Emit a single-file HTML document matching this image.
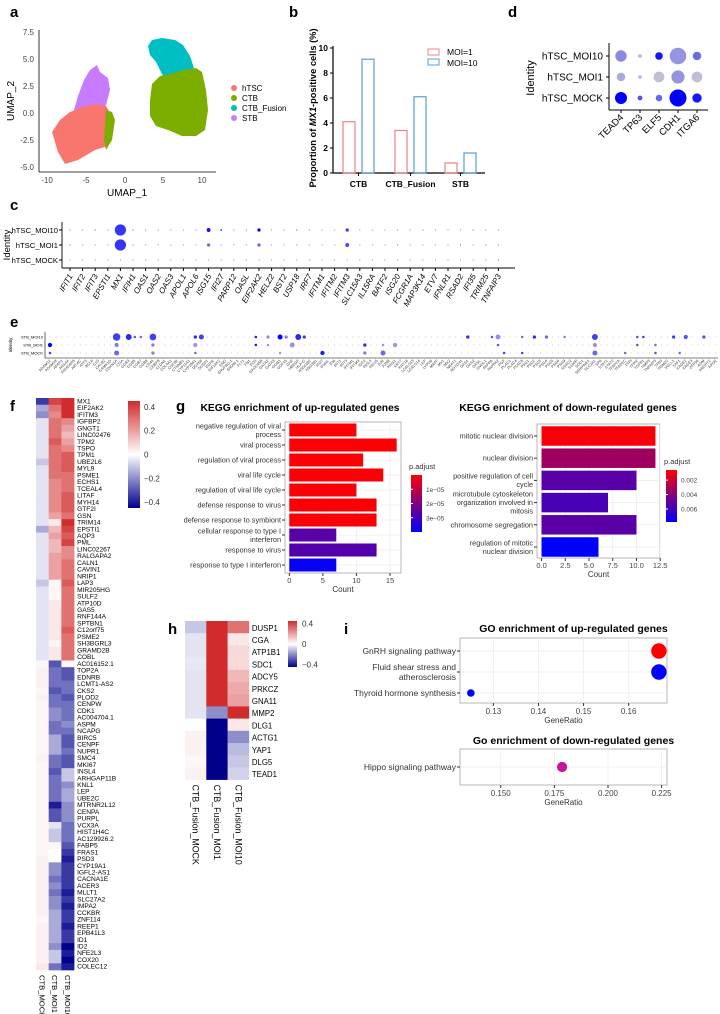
<!DOCTYPE html>
<html><head><meta charset="utf-8">
<style>
html,body{margin:0;padding:0;background:#fff;}
svg{display:block;font-family:"Liberation Sans",Arial,sans-serif;}
.lbl{font-weight:bold;font-size:15px;}
</style></head>
<body>
<svg id="fig" width="720" height="1014" viewBox="0 0 720 1014" xmlns="http://www.w3.org/2000/svg">
<defs>
<linearGradient id="gradRB" x1="0" y1="0" x2="0" y2="1"><stop offset="0" stop-color="#ff0000"/><stop offset="1" stop-color="#0000ff"/></linearGradient>
<linearGradient id="gradHeat" x1="0" y1="0" x2="0" y2="1"><stop offset="0" stop-color="#d12b2b"/><stop offset="0.5" stop-color="#ffffff"/><stop offset="1" stop-color="#00008b"/></linearGradient>
</defs>
<text class="lbl" x="10" y="17">a</text>
<text class="lbl" x="289" y="17">b</text>
<text class="lbl" x="508" y="17">d</text>
<text class="lbl" x="10" y="210">c</text>
<text class="lbl" x="10" y="327">e</text>
<text class="lbl" x="10" y="411">f</text>
<text class="lbl" x="176" y="411">g</text>
<text class="lbl" x="168" y="634">h</text>
<text class="lbl" x="344" y="634">i</text>

<g>
<polygon fill="#00BFC4" points="148,46 152,40 162,38 175,40 183,45 190,56 194,68 182,72 170,80 164,78 160,70 156,62 150,55"/>
<polygon fill="#7CAE00" points="150,100 152,84 160,76 170,74 183,70 196,68 202,72 206,90 208,110 205,130 196,136 182,136 168,130 156,126 150,116"/>
<polygon fill="#C77CFF" points="74,110 78,96 84,80 90,70 97,65 100,72 108,78 110,90 106,105 100,112"/>
<polygon fill="#F8766D" points="52,132 60,120 70,112 82,107 96,104 106,106 112,116 110,134 108,146 95,150 78,160 65,164 58,152"/>
<polygon fill="#7CAE00" points="106,110 112,112 115,120 112,140 106,150 104,140"/>
<line x1="39" y1="30" x2="39" y2="172" stroke="#000" stroke-width="0.8"/>
<line x1="39" y1="172" x2="216" y2="172" stroke="#000" stroke-width="0.8"/>
<g font-size="8" fill="#444" text-anchor="end">
<text x="34" y="35">7.5</text><text x="34" y="62">5.0</text><text x="34" y="89">2.5</text><text x="34" y="116">0.0</text><text x="34" y="143">-2.5</text><text x="34" y="170">-5.0</text></g>
<g font-size="8" fill="#444" text-anchor="middle">
<text x="47" y="183">-10</text><text x="86" y="183">-5</text><text x="125" y="183">0</text><text x="163" y="183">5</text><text x="202" y="183">10</text></g>
<text x="127" y="196" font-size="10" text-anchor="middle">UMAP_1</text>
<text transform="translate(14,101) rotate(-90)" font-size="10" text-anchor="middle">UMAP_2</text>
<g font-size="8">
<circle cx="234" cy="88" r="3" fill="#F8766D"/><text x="242" y="91">hTSC</text>
<circle cx="234" cy="98" r="3" fill="#7CAE00"/><text x="242" y="101">CTB</text>
<circle cx="234" cy="108" r="3" fill="#00BFC4"/><text x="242" y="111">CTB_Fusion</text>
<circle cx="234" cy="118" r="3" fill="#C77CFF"/><text x="242" y="121">STB</text>
</g></g>

<g id="pb"></g>
<g id="pd"></g>
<g id="pc"></g>
<g id="pe"></g>
<g id="pf"></g>
<g id="pg"></g>
<g id="ph"></g>
<g id="pi"></g>
</svg>
<script>
const bCategories = ["CTB","CTB_Fusion","STB"];
const bMoi1 = [4.1, 3.4, 0.8];
const bMoi10 = [9.1, 6.1, 1.6];
const bTicks = [0,2,4,6,8,10];

const dGenes = ["TEAD4","TP63","ELF5","CDH1","ITGA6"];
const dRows = ["hTSC_MOI10","hTSC_MOI1","hTSC_MOCK"];
const dPct = [[0.45,0.05,0.2,0.95,0.25],[0.25,0.05,0.4,0.6,0.4],[0.5,0.08,0.15,1.0,0.3]];
const dExp = [[0.35,0.1,0.9,0.3,0.5],[0.2,0.1,0.1,0.3,0.1],[1.0,0.6,0.5,1.0,0.9]];

const cGenes = ["IFIT1","IFIT2","IFIT3","EPSTI1","MX1","IFIH1","OAS1","OAS2","OAS3","APOL1","APOL6","ISG15","IFI27","PARP12","OASL","EIF2AK2","HELZ2","BST2","USP18","IRF7","IFITM1","IFITM2","IFITM3","SLC15A3","IL15RA","BATF2","ISG20","FCGR1A","MAP3K14","ETV7","IFNLR1","RSAD2","IFI35","TRIM25","TNFAIP3"];
const cRows = ["hTSC_MOI10","hTSC_MOI1","hTSC_MOCK"];
const cPct = [
 [0.08,0.04,0.08,0.06,1.0,0.1,0.08,0.05,0.05,0.05,0.06,0.35,0.15,0.06,0.05,0.3,0.05,0.06,0.1,0.06,0.04,0.05,0.3,0.04,0.04,0.04,0.05,0.04,0.05,0.06,0.04,0.06,0.08,0.05,0.05],
 [0.06,0.04,0.05,0.05,1.0,0.06,0.06,0.04,0.04,0.04,0.05,0.3,0.05,0.04,0.04,0.3,0.04,0.05,0.06,0.04,0.04,0.04,0.35,0.04,0.04,0.04,0.06,0.04,0.04,0.04,0.04,0.06,0.05,0.06,0.05],
 [0.05,0.06,0.04,0.04,0.04,0.04,0.04,0.04,0.04,0.04,0.04,0.06,0.04,0.04,0.04,0.04,0.04,0.04,0.04,0.04,0.04,0.06,0.04,0.04,0.04,0.04,0.04,0.04,0.04,0.04,0.04,0.04,0.04,0.04,0.08]];
const cExp = [
 [0.5,0.3,0.5,0.4,0.75,0.6,0.4,0.3,0.3,0.3,0.4,0.9,0.9,0.4,0.4,0.95,0.3,0.4,0.6,0.4,0.3,0.3,0.7,0.3,0.3,0.3,0.4,0.3,0.4,0.4,0.3,0.4,0.5,0.4,0.4],
 [0.4,0.3,0.3,0.3,0.75,0.4,0.3,0.3,0.3,0.3,0.3,0.5,0.3,0.3,0.3,0.5,0.3,0.3,0.4,0.3,0.3,0.3,0.65,0.3,0.3,0.3,0.5,0.3,0.3,0.3,0.3,0.5,0.3,0.4,0.4],
 [0.3,0.3,0.3,0.3,0.3,0.3,0.3,0.3,0.3,0.3,0.3,0.3,0.3,0.3,0.3,0.3,0.3,0.3,0.3,0.3,0.3,0.3,0.3,0.3,0.3,0.3,0.3,0.3,0.3,0.3,0.3,0.3,0.3,0.3,0.5]];

const eGenes = "ADAM12 ADAM19 AFAP1 ANXA4 ARHGAP5 ARL4C ATF3 BCL6 C1S CALB2 CAMK1D CDKN1A CGA CGB3 CGB5 CGB7 CGB8 CD44 CEBPB CLDN1 COL4A1 CSF3R CTNNB1 CYP11A1 CYP19A1 DDX58 DUSP1 EGFR EIF2AK2 ENG ERVFRD-1 ERVW-1 FLT1 FN1 FOS GADD45B GATA2 GATA3 GCM1 GDF15 GH2 HBEGF HLA-G HSD11B2 HSD3B1 IFI27 IFI44L IFI6 IFIT1 IFIT3 IFITM1 IFITM3 IGF2 INSL4 ISG15 JUN JUNB KISS1 KRT7 KRT18 LGALS13 LGALS14 LEP LYPD6 MAFF MX1 MX2 NEAT1 NOTCH1 OAS1 OAS2 OASL OVOL1 PAPPA PAPPA2 PGF PLAC1 PLAC4 PLAC8 PSG1 PSG2 PSG3 PSG4 PSG5 PSG6 PSG9 RSAD2 S100P SDC1 SERPINE1 SLC2A1 SP6 STAT1 STAT2 TFAP2A TFAP2C TFPI TFPI2 TGFB1 TIMP3 TNFAIP3 TP63 TRIM22 VGLL1 XAF1 XAGE2 XAGE3 ZFP36 ADM ANGPT2 APOE".split(" ");
const eRows = ["STB_MOI10","STB_MOI1","STB_MOCK"];
const eHighlights = [
 [0,11,0.9,0.7],[0,13,0.7,0.8],[0,14,0.3,0.6],[0,15,0.3,0.5],[0,17,0.8,0.7],[0,24,0.4,0.8],[0,25,0.6,0.7],[0,34,0.3,0.9],[0,36,0.4,0.3],[0,38,0.6,1.0],[0,39,0.4,0.4],[0,41,0.7,0.8],[0,42,0.4,0.7],
 [0,69,0.4,0.8],[0,73,0.3,0.6],[0,74,0.6,0.3],[0,78,0.3,0.5],[0,80,0.4,0.8],[0,82,0.4,0.5],[0,85,0.3,0.4],[0,90,0.7,0.7],[0,97,0.3,0.6],[0,98,0.3,0.7],[0,103,0.4,0.7],[0,105,0.5,0.6],[0,108,0.4,0.6],
 [1,0,0.5,1.0],[1,11,0.5,0.4],[1,17,0.4,0.4],[1,24,0.5,0.3],[1,34,0.3,0.9],[1,36,0.3,0.3],[1,40,0.6,0.3],[1,52,0.4,0.8],[1,55,0.3,0.3],[1,57,0.5,0.3],[1,74,0.3,0.6],[1,90,0.5,0.3],[1,97,0.3,0.6],[1,100,0.3,0.5],
 [2,0,0.3,0.7],[2,11,0.6,0.5],[2,17,0.4,0.4],[2,24,0.3,0.5],[2,38,0.3,0.3],[2,45,0.5,0.9],[2,52,0.4,0.4],[2,55,0.6,0.5],[2,75,0.3,0.7],[2,78,0.3,0.7],[2,90,0.6,0.5],[2,95,0.3,0.5],[2,100,0.3,0.6],[2,104,0.3,0.5]];

const fGenes = ["MX1","EIF2AK2","IFITM3","IGFBP2","GNGT1","LINC02476","TPM2","TSPO","TPM1","UBE2L6","MYL9","PSME1","ECHS1","TCEAL4","LITAF","MYH14","GTF2I","GSN","TRIM14","EPSTI1","AQP3","PML","LINC02267","RALGAPA2","CALN1","CAVIN1","NRIP1","LAP3","MIR205HG","SULF2","ATP10D","GAS5","RNF144A","SPTBN1","C12orf75","PSME2","SH3BGRL3","GRAMD2B","COBL","AC016152.1","TOP2A","EDNRB","LCMT1-AS2","CKS2","PLOD2","CENPW","CDK1","AC004704.1","ASPM","NCAPG","BIRC5","CENPF","NUPR1","SMC4","MKI67","INSL4","ARHGAP11B","KNL1","LEP","UBE2C","MTRNR2L12","CENPA","PURPL","VCX3A","HIST1H4C","AC129926.2","FABP5","FRAS1","PSD3","CYP19A1","IGFL2-AS1","CACNA1E","ACER3","MLLT1","SLC27A2","IMPA2","CCKBR","ZNF114","REEP1","EPB41L3","ID1","ID2","NFE2L3","COX20","COLEC12"];
const fCols = ["CTB_MOCK","CTB_MOI1","CTB_MOI10"];
const fMock = [-0.35,-0.15,-0.2,-0.05,-0.05,-0.05,-0.05,-0.05,-0.05,-0.1,-0.05,-0.05,-0.05,-0.05,-0.05,-0.05,-0.05,-0.05,-0.05,-0.15,-0.05,-0.05,-0.05,-0.05,-0.05,-0.05,-0.05,-0.1,-0.05,-0.05,-0.05,-0.05,-0.05,-0.05,-0.05,-0.05,-0.05,-0.05,-0.05,
 0.02,0.03,0.03,0.03,0.02,0.03,0.02,0.02,0.02,0.02,0.02,0.02,0.02,0.02,0.03,0.02,0.02,0.02,0.02,0.02,0.02,0.02,0.02,0.02,0.02,0.02,0.02,0.02,0.02,0.03,0.03,0.03,0.03,0.03,0.03,0.03,0.03,0.03,0.02,0.03,0.03,0.03,0.03,0.03,0.03,0.05];
const fMoi1 = [0.4,0.3,0.25,0.3,0.3,0.3,0.35,0.3,0.3,0.3,0.3,0.3,0.25,0.25,0.25,0.25,0.25,0.2,0.05,0.15,0.2,0.15,0.15,0.2,0.2,0.2,0.2,0.02,0.02,0.02,0.05,0.05,0.05,0.05,0.05,0.05,0.02,0.05,0.05,
 -0.3,-0.25,-0.25,-0.25,-0.3,-0.25,-0.25,-0.2,-0.2,-0.25,-0.25,-0.15,-0.15,-0.15,-0.25,-0.25,-0.3,-0.25,-0.25,-0.25,-0.25,-0.4,-0.3,-0.3,-0.05,-0.1,-0.1,0.02,0.0,0.0,-0.2,-0.2,-0.25,-0.2,-0.25,-0.2,-0.2,-0.15,-0.15,-0.15,-0.15,-0.15,-0.2,-0.1,-0.1,-0.25];
const fMoi10 = [0.45,0.45,0.45,0.25,0.2,0.15,0.2,0.25,0.35,0.35,0.35,0.3,0.3,0.3,0.35,0.35,0.35,0.3,0.45,0.4,0.35,0.4,0.25,0.25,0.3,0.3,0.3,0.35,0.3,0.3,0.3,0.3,0.3,0.3,0.35,0.3,0.3,0.3,0.3,
 0.02,-0.3,-0.3,-0.25,-0.25,-0.3,-0.25,-0.25,-0.25,-0.2,-0.25,-0.3,-0.3,-0.25,-0.3,-0.3,-0.1,-0.1,-0.2,-0.15,-0.15,-0.2,-0.2,-0.2,-0.25,-0.25,-0.25,-0.3,-0.35,-0.4,-0.35,-0.35,-0.35,-0.35,-0.4,-0.35,-0.4,-0.35,-0.35,-0.4,-0.35,-0.35,-0.45,-0.4,-0.5,-0.4];
const fTicks = [0.4,0.2,0,-0.2,-0.4];

const gUpTerms = [["negative regulation of viral","process"],["viral process"],["regulation of viral process"],["viral life cycle"],["regulation of viral life cycle"],["defense response to virus"],["defense response to symbiont"],["cellular response to type I","interferon"],["response to virus"],["response to type I interferon"]];
const gUpCounts = [10,16,11,14,10,13,13,7,13,7];
const gUpPadj = [0.3e-6,0.5e-6,0.5e-6,0.6e-6,0.7e-6,0.8e-6,0.9e-6,2.6e-5,2.7e-5,3.9e-5];
const gUpTicks = [0,5,10,15];
const gUpLegTicks = [1e-5,2e-5,3e-5];
const gDnTerms = [["mitotic nuclear division"],["nuclear division"],["positive regulation of cell","cycle"],["microtubule cytoskeleton","organization involved in","mitosis"],["chromosome segregation"],["regulation of mitotic","nuclear division"]];
const gDnCounts = [12,12,10,7,10,6];
const gDnPadj = [0.0008,0.0033,0.0053,0.0057,0.0053,0.0078];
const gDnTicks = [0,2.5,5,7.5,10,12.5];
const gDnLegTicks = [0.002,0.004,0.006];

const hGenes = ["DUSP1","CGA","ATP1B1","SDC1","ADCY5","PRKCZ","GNA11","MMP2","DLG1","ACTG1","YAP1","DLG5","TEAD1"];
const hCols = ["CTB_Fusion_MOCK","CTB_Fusion_MOI1","CTB_Fusion_MOI10"];
const hMock = [-0.1,-0.05,-0.05,-0.04,-0.05,-0.05,-0.05,-0.05,0.0,0.03,0.03,0.02,0.03];
const hMoi1 = [0.45,0.45,0.45,0.45,0.45,0.45,0.45,-0.2,-0.45,-0.45,-0.45,-0.45,-0.45];
const hMoi10 = [0.3,0.05,0.08,0.08,0.15,0.18,0.2,0.45,0.05,-0.2,-0.12,-0.1,-0.08];
const hTicks = [0.4,0,-0.4];

const iUpTerms = [["GnRH signaling pathway"],["Fluid shear stress and","atherosclerosis"],["Thyroid hormone synthesis"]];
const iUpRatio = [0.1667,0.1667,0.125];
const iUpCount = [4,4,1];
const iUpColor = ["#ff0000","#0000ff","#0000ff"];
const iUpTicks = [0.13,0.14,0.15,0.16];
const iDnTerms = [["Hippo signaling pathway"]];
const iDnRatio = [0.1786];
const iDnCount = [2];
const iDnColor = ["#c8149a"];
const iDnTicks = [0.150,0.175,0.200,0.225];

const NS="http://www.w3.org/2000/svg";
function mk(parent,tag,attrs,text){const e=document.createElementNS(NS,tag);for(const k in attrs)e.setAttribute(k,attrs[k]);if(text!==undefined)e.textContent=text;parent.appendChild(e);return e;}
function lin(d0,d1,r0,r1){return v=>r0+(v-d0)*(r1-r0)/(d1-d0);}
function mix(a,b,t){const pa=[1,3,5].map(i=>parseInt(a.substr(i,2),16)),pb=[1,3,5].map(i=>parseInt(b.substr(i,2),16));return "rgb("+pa.map((x,i)=>Math.round(x+(pb[i]-x)*t)).join(",")+")";}
function dotCol(v){return mix("#d3d3d3","#0000ff",Math.max(0,Math.min(1,v)));}
function heat(v,m){const t=Math.max(-1,Math.min(1,v/m));return t>=0?mix("#ffffff","#d12b2b",t):mix("#ffffff","#00008b",-t);}
function rbCol(t){return mix("#ff0000","#0000ff",Math.max(0,Math.min(1,t)));}

(function(){
 const g=document.getElementById("pb");
 const y=lin(0,10,173,48);
 const x0=[343,395,445];
 mk(g,"line",{x1:333,y1:46,x2:333,y2:173,stroke:"#000","stroke-width":1.2});
 mk(g,"line",{x1:333,y1:173,x2:485,y2:173,stroke:"#000","stroke-width":1.2});
 bTicks.forEach(t=>{mk(g,"line",{x1:330,y1:y(t),x2:333,y2:y(t),stroke:"#000"});
  const tl=mk(g,"text",{x:328,y:y(t)+3,"font-size":8.5,"font-weight":"bold","text-anchor":"end"},t);
  
  });
 bCategories.forEach((c,i)=>{
  const b1=mk(g,"rect",{x:x0[i],y:y(bMoi1[i]),width:12,height:y(0)-y(bMoi1[i]),fill:"none",stroke:"#f08080","stroke-width":1.2});
  
  
  const b2=mk(g,"rect",{x:x0[i]+19,y:y(bMoi10[i]),width:12,height:y(0)-y(bMoi10[i]),fill:"none",stroke:"#5b9be0","stroke-width":1.2});
  
  
  mk(g,"line",{x1:x0[i]+15.5,y1:173,x2:x0[i]+15.5,y2:176,stroke:"#000"});
  const cl=mk(g,"text",{x:x0[i]+15.5,y:187,"font-size":8.5,"font-weight":"bold","text-anchor":"middle"},c);
  
  
 });
 const t=mk(g,"text",{transform:"translate(316,108) rotate(-90)","font-size":9.3,"font-weight":"bold","text-anchor":"middle"});
 
 
 t.innerHTML='Proportion of <tspan font-style="italic">MX1</tspan>-positive cells (%)';
 const l1=mk(g,"rect",{x:428,y:49,width:11,height:6,fill:"none",stroke:"#f08080"});
 
 
 mk(g,"text",{x:447,y:55,"font-size":8.5},"MOI=1");
 const l2=mk(g,"rect",{x:428,y:59,width:11,height:6,fill:"none",stroke:"#5b9be0"});
 
 
 mk(g,"text",{x:447,y:66,"font-size":8.5},"MOI=10");
})();

(function(){
 const g=document.getElementById("pd");
 const x=i=>621+i*19, y=i=>56+i*21;
 mk(g,"line",{x1:609,y1:43,x2:609,y2:110,stroke:"#000","stroke-width":1});
 mk(g,"line",{x1:609,y1:110,x2:708,y2:110,stroke:"#000","stroke-width":1});
 dRows.forEach((r,ri)=>{
  mk(g,"line",{x1:606,y1:y(ri),x2:609,y2:y(ri),stroke:"#000"});
  const rl=mk(g,"text",{x:603,y:y(ri)+3.5,"font-size":10,"text-anchor":"end"},r);
  
  
  dGenes.forEach((gn,gi)=>{
   const c=mk(g,"circle",{cx:x(gi),cy:y(ri),r:Math.max(0.6,8.5*Math.sqrt(dPct[ri][gi])),fill:dotCol(dExp[ri][gi])});
   
   
  });
 });
 dGenes.forEach((gn,gi)=>{
  mk(g,"line",{x1:x(gi),y1:110,x2:x(gi),y2:113,stroke:"#000"});
  const t=mk(g,"text",{transform:`translate(${x(gi)+3},118) rotate(-45)`,"font-size":9.5,"text-anchor":"end"},gn);
  
  
 });
 const yt=mk(g,"text",{transform:"translate(534,78) rotate(-90)","font-size":11,"text-anchor":"middle"},"Identity");
 
 
})();

(function(){
 const g=document.getElementById("pc");
 const x=i=>70+i*12.6, y=i=>230+i*15;
 mk(g,"line",{x1:62,y1:222,x2:62,y2:268,stroke:"#000","stroke-width":0.9});
 mk(g,"line",{x1:62,y1:268,x2:515,y2:268,stroke:"#000","stroke-width":0.9});
 cRows.forEach((r,ri)=>{
  mk(g,"line",{x1:59,y1:y(ri),x2:62,y2:y(ri),stroke:"#000"});
  const rl=mk(g,"text",{x:58,y:y(ri)+3,"font-size":7.6,"text-anchor":"end"},r);
  
  
  cGenes.forEach((gn,gi)=>{
   const c=mk(g,"circle",{cx:x(gi),cy:y(ri),r:Math.max(0.6,5.6*cPct[ri][gi]),fill:dotCol(cExp[ri][gi])});
   
   
  });
 });
 cGenes.forEach((gn,gi)=>{
  mk(g,"line",{x1:x(gi),y1:268,x2:x(gi),y2:271,stroke:"#000"});
  const t=mk(g,"text",{transform:`translate(${x(gi)+3},276) rotate(-60)`,"font-size":8,"font-style":"italic","text-anchor":"end"},gn);
  
  
 });
 const yt=mk(g,"text",{transform:"translate(10,245) rotate(-90)","font-size":9.5,"text-anchor":"middle"},"Identity");
 
 
})();

(function(){
 const g=document.getElementById("pe");
 const sp=(716-50)/(eGenes.length-1);
 const x=i=>50+i*sp, y=i=>337+i*8;
 mk(g,"line",{x1:45,y1:332,x2:45,y2:358,stroke:"#000","stroke-width":0.6});
 mk(g,"line",{x1:45,y1:358,x2:718,y2:358,stroke:"#000","stroke-width":0.6});
 eRows.forEach((r,ri)=>{
  const rl=mk(g,"text",{x:43,y:y(ri)+1.5,"font-size":4,"text-anchor":"end"},r);
  
  
  eGenes.forEach((gn,gi)=>{
   const c=mk(g,"circle",{cx:x(gi),cy:y(ri),r:0.5,fill:"#b8b8e8"});
   
   
  });
 });
 eHighlights.forEach(h=>{
  const c=mk(g,"circle",{cx:x(h[1]),cy:y(h[0]),r:Math.max(0.6,4.2*h[2]),fill:dotCol(h[3])});
  
  
 });
 eGenes.forEach((gn,gi)=>{
  const t=mk(g,"text",{transform:`translate(${x(gi)+1},361) rotate(-45)`,"font-size":3.8,fill:"#333","text-anchor":"end"},gn);
  
  
 });
 const yt=mk(g,"text",{transform:"translate(12,345) rotate(-90)","font-size":4.5,"text-anchor":"middle"},"Identity");
 
 
})();

function heatmap(g,genes,cols,vals,x0,y0,cw,rh,fs,m,prefix){
 vals.forEach((col,ci)=>col.forEach((v,ri)=>{
  const r=mk(g,"rect",{x:x0+ci*cw,y:y0+ri*rh,width:cw+0.3,height:rh+0.3,fill:heat(v,m)});
  
  
 }));
 genes.forEach((gn,ri)=>{
  const t=mk(g,"text",{x:x0+cols.length*cw+3,y:y0+ri*rh+rh*0.8,"font-size":fs},gn);
  
  
 });
 cols.forEach((c,ci)=>{
  const t=mk(g,"text",{transform:`translate(${x0+ci*cw+cw/2-3},${y0+genes.length*rh+5}) rotate(90)`,"font-size":fs+1},c);
  
  
 });
}

(function(){
 const g=document.getElementById("pf");
 heatmap(g,fGenes,fCols,[fMock,fMoi1,fMoi10],36,398,12.7,6.73,6.6,0.45,'f');
 const cb=mk(g,"rect",{x:128,y:401,width:12,height:107,fill:"url(#gradHeat)"});
 
 
 const cy=lin(0.45,-0.45,401,508);
 fTicks.forEach(t=>{mk(g,"text",{x:144,y:cy(t)+3,"font-size":8,fill:"#333"},t===0?"0":(t<0?"\u2212"+(-t):t));});
})();

function barPanel(g,terms,counts,padj,ticks,legTicks,opt){
 const {px0,px1,py0,py1,xmax,rowY,bh,title,tx,cbx,cby0,cby1,pmin,pmax,prefix}=opt;
 mk(g,"rect",{x:px0,y:py0,width:px1-px0,height:py1-py0,fill:"#fff",stroke:"#999","stroke-width":0.7});
 const x=lin(-xmax*0.04,xmax*1.04,px0,px1);
 ticks.forEach(t=>{mk(g,"line",{x1:x(t),y1:py0,x2:x(t),y2:py1,stroke:"#ebebeb","stroke-width":0.7});
  mk(g,"line",{x1:x(t),y1:py1,x2:x(t),y2:py1+3,stroke:"#333"});
  const tl=mk(g,"text",{x:x(t),y:py1+10,"font-size":7.5,fill:"#444","text-anchor":"middle"},opt.fmt?t.toFixed(1):t);
  
  });
 const ct=mk(g,"text",{x:(px0+px1)/2,y:py1+19,"font-size":8,fill:"#333","text-anchor":"middle"},"Count");
 
 
 counts.forEach((c,i)=>{
  const yy=rowY(i);
  mk(g,"line",{x1:px0,y1:yy,x2:px1,y2:yy,stroke:"#ebebeb","stroke-width":0.7});
  const b=mk(g,"rect",{x:x(0),y:yy-bh/2,width:x(c)-x(0),height:bh,fill:rbCol((padj[i]-pmin)/(pmax-pmin))});
  
  
  mk(g,"line",{x1:px0-3,y1:yy,x2:px0,y2:yy,stroke:"#333"});
  const lines=terms[i], lh=8.5, st=yy-(lines.length-1)*lh/2+2.5;
  lines.forEach((ln,k)=>{const t=mk(g,"text",{x:px0-4,y:st+k*lh,"font-size":7.3,fill:"#333","text-anchor":"end"},ln);
   
   });
 });
 const tt=mk(g,"text",{x:tx,y:411,"font-size":opt.tfs,"font-weight":"bold","text-anchor":"middle"},title);
 
 
 mk(g,"text",{x:cbx-2,y:cby0-6,"font-size":7.5,fill:"#333"},"p.adjust");
 const cb=mk(g,"rect",{x:cbx,y:cby0,width:11,height:cby1-cby0,fill:"url(#gradRB)"});
 
 
 const cy=lin(pmin,pmax,cby0,cby1);
 legTicks.forEach(t=>{mk(g,"line",{x1:cbx,y1:cy(t),x2:cbx+2,y2:cy(t),stroke:"#fff"});
  mk(g,"text",{x:cbx+15,y:cy(t)+2.5,"font-size":6.5,fill:"#444"},opt.lfmt(t));});
}
(function(){
 const g=document.getElementById("pg");
 barPanel(g,gUpTerms,gUpCounts,gUpPadj,gUpTicks,gUpLegTicks,{px0:285,px1:401,py0:422,py1:573,xmax:16,rowY:i=>430+i*15,bh:13,title:"KEGG enrichment of up-regulated genes",tx:300,tfs:10.3,cbx:411,cby0:475,cby1:532,pmin:0,pmax:4e-5,prefix:'g-up',lfmt:t=>Math.round(t*1e5)+"e\u221205"});
 barPanel(g,gDnTerms,gDnCounts,gDnPadj,gDnTicks,gDnLegTicks,{px0:537,px1:660,py0:424,py1:558,xmax:12,rowY:i=>436+i*22.2,bh:19.5,title:"KEGG enrichment of down-regulated genes",tx:568,tfs:10.5,cbx:666,cby0:470,cby1:522,pmin:0.0006,pmax:0.0078,prefix:'g-dn',fmt:true,lfmt:t=>t.toFixed(3)});
})();

(function(){
 const g=document.getElementById("ph");
 heatmap(g,hGenes,hCols,[hMock,hMoi1,hMoi10],185,621,21.3,12.2,7.8,0.45,'h');
 const cb=mk(g,"rect",{x:288,y:621,width:9,height:46,fill:"url(#gradHeat)"});
 
 
 const cy=lin(0.45,-0.45,621,667);
 hTicks.forEach(t=>{mk(g,"text",{x:302,y:cy(t)+3,"font-size":8,fill:"#333"},t===0?"0":(t<0?"\u2212"+(-t):t));});
})();

function dotPanel(g,terms,ratio,count,color,ticks,opt){
 const {px0,px1,py0,py1,d0,d1,rowY,title,ty,prefix,dec}=opt;
 mk(g,"rect",{x:px0,y:py0,width:px1-px0,height:py1-py0,fill:"#fff",stroke:"#999","stroke-width":0.7});
 const x=lin(d0,d1,px0,px1);
 ticks.forEach(t=>{mk(g,"line",{x1:x(t),y1:py0,x2:x(t),y2:py1,stroke:"#ebebeb","stroke-width":0.7});
  mk(g,"line",{x1:x(t),y1:py1,x2:x(t),y2:py1+3,stroke:"#333"});
  const tl=mk(g,"text",{x:x(t),y:py1+11,"font-size":8,fill:"#444","text-anchor":"middle"},t.toFixed(dec));
  
  });
 const xt=mk(g,"text",{x:(px0+px1)/2,y:py1+20,"font-size":8,fill:"#333","text-anchor":"middle"},"GeneRatio");
 
 
 ratio.forEach((r,i)=>{
  const yy=rowY(i);
  mk(g,"line",{x1:px0,y1:yy,x2:px1,y2:yy,stroke:"#ebebeb","stroke-width":0.7});
  mk(g,"line",{x1:px0-3,y1:yy,x2:px0,y2:yy,stroke:"#333"});
  const c=mk(g,"circle",{cx:x(r),cy:yy,r:2.5+1.3*count[i],fill:color[i]});
  
  
  const lines=terms[i], lh=10, st=yy-(lines.length-1)*lh/2+3;
  lines.forEach((ln,k)=>{const t=mk(g,"text",{x:px0-4,y:st+k*lh,"font-size":8.5,fill:"#333","text-anchor":"end"},ln);
   
   });
 });
 const tt=mk(g,"text",{x:(px0+px1)/2+10,y:ty,"font-size":10.5,"font-weight":"bold","text-anchor":"middle"},title);
 
 
}
(function(){
 const g=document.getElementById("pi");
 dotPanel(g,iUpTerms,iUpRatio,iUpCount,iUpColor,iUpTicks,{px0:460,px1:667,py0:638,py1:703,d0:0.1226,d1:0.1685,rowY:i=>651+i*21,title:"GO enrichment of up-regulated genes",ty:632,prefix:'i-up',dec:2});
 dotPanel(g,iDnTerms,iDnRatio,iDnCount,iDnColor,iDnTicks,{px0:460,px1:667,py0:749,py1:785,d0:0.131,d1:0.2275,rowY:i=>767,title:"Go enrichment of down-regulated genes",ty:744,prefix:'i-dn',dec:3});
})();
</script>
</body></html>
